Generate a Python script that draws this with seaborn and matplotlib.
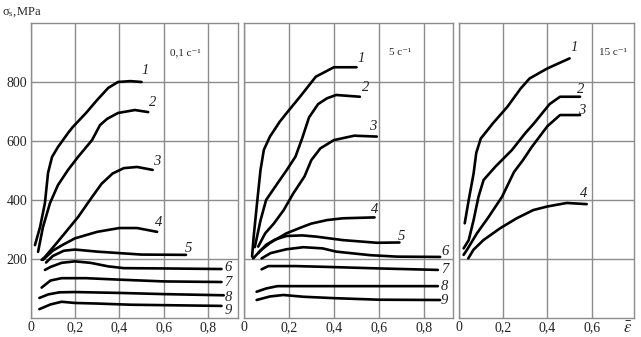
import numpy as np
import pandas as pd
import seaborn as sns
import matplotlib.pyplot as plt

# strain rate of each panel
rates = ['0,1 с⁻¹', '5 с⁻¹', '15 с⁻¹']

# flow curves: curve number -> (strain, stress MPa)
curves_01 = {
    1: ([0.02, 0.043, 0.065, 0.079, 0.097, 0.124, 0.169, 0.19, 0.25, 0.30, 0.35, 0.394, 0.45, 0.50],
        [247, 308, 390, 492, 546, 580, 627, 647, 695, 739, 780, 800, 803, 800]),
    2: ([0.034, 0.056, 0.088, 0.124, 0.169, 0.214, 0.277, 0.313, 0.345, 0.394, 0.47, 0.53],
        [224, 308, 390, 451, 502, 546, 603, 654, 675, 695, 705, 698]),
    3: ([0.05, 0.065, 0.11, 0.155, 0.214, 0.277, 0.32, 0.37, 0.42, 0.48, 0.55],
        [197, 207, 247, 288, 342, 410, 455, 490, 508, 512, 502]),
    4: ([0.056, 0.10, 0.15, 0.2, 0.3, 0.4, 0.48, 0.57],
        [197, 228, 250, 270, 292, 305, 305, 292]),
    5: ([0.07, 0.1, 0.15, 0.2, 0.3, 0.4, 0.5, 0.7],
        [188, 210, 228, 232, 225, 220, 215, 214]),
    6: ([0.065, 0.09, 0.14, 0.2, 0.27, 0.35, 0.42, 0.6, 0.86],
        [163, 173, 187, 192, 187, 175, 169, 168, 166]),
    7: ([0.05, 0.09, 0.14, 0.25, 0.4, 0.6, 0.86],
        [103, 127, 135, 135, 130, 124, 122]),
    8: ([0.04, 0.08, 0.13, 0.2, 0.4, 0.6, 0.87],
        [68, 80, 87, 88, 85, 81, 77]),
    9: ([0.04, 0.09, 0.14, 0.2, 0.3, 0.45, 0.86],
        [30, 46, 55, 51, 49, 45, 41]),
}

curves_5 = {
    1: ([0.038, 0.045, 0.06, 0.075, 0.09, 0.117, 0.16, 0.19, 0.25, 0.32, 0.40, 0.50],
        [208, 276, 390, 500, 570, 615, 665, 694, 750, 818, 850, 850]),
    2: ([0.05, 0.075, 0.10, 0.15, 0.19, 0.23, 0.26, 0.29, 0.33, 0.37, 0.41, 0.515],
        [240, 330, 400, 456, 500, 547, 610, 680, 725, 745, 756, 750]),
    3: ([0.065, 0.096, 0.134, 0.178, 0.22, 0.27, 0.30, 0.34, 0.40, 0.49, 0.59],
        [242, 287, 320, 366, 422, 480, 535, 575, 603, 618, 615]),
    4: ([0.043, 0.074, 0.12, 0.19, 0.265, 0.30, 0.37, 0.44, 0.58],
        [202, 228, 256, 287, 310, 320, 332, 338, 341]),
    5: ([0.065, 0.10, 0.14, 0.19, 0.26, 0.32, 0.44, 0.59, 0.69],
        [220, 248, 266, 278, 280, 276, 264, 255, 256]),
    6: ([0.08, 0.12, 0.19, 0.265, 0.35, 0.41, 0.56, 0.68, 0.87],
        [202, 220, 233, 240, 236, 225, 213, 208, 207]),
    7: ([0.08, 0.11, 0.23, 0.38, 0.6, 0.86],
        [165, 176, 176, 173, 168, 163]),
    8: ([0.058, 0.10, 0.15, 0.3, 0.86],
        [89, 100, 108, 108, 108]),
    9: ([0.058, 0.117, 0.176, 0.265, 0.41, 0.6, 0.87],
        [61, 73, 78, 72, 67, 62, 61]),
}

curves_15 = {
    1: ([0.028, 0.046, 0.068, 0.08, 0.10, 0.155, 0.22, 0.28, 0.32, 0.40, 0.50],
        [321, 400, 490, 560, 608, 660, 716, 778, 812, 846, 880]),
    2: ([0.023, 0.046, 0.068, 0.09, 0.113, 0.166, 0.24, 0.30, 0.34, 0.41, 0.457, 0.547],
        [236, 264, 332, 411, 468, 513, 569, 626, 660, 725, 750, 750]),
    3: ([0.023, 0.038, 0.083, 0.136, 0.196, 0.25, 0.29, 0.33, 0.40, 0.457, 0.547],
        [214, 231, 287, 343, 411, 495, 535, 580, 650, 688, 688]),
    4: ([0.044, 0.067, 0.112, 0.187, 0.262, 0.337, 0.40, 0.487, 0.577],
        [202, 231, 264, 304, 338, 366, 378, 390, 386]),
}

# where the curve numbers sit (strain, stress)
labels_01 = {1: (0.515, 840), 2: (0.55, 729), 3: (0.57, 529), 4: (0.575, 325), 5: (0.71, 237),
             6: (0.89, 170), 7: (0.89, 119), 8: (0.89, 71), 9: (0.89, 27)}
labels_5 = {1: (0.52, 881), 2: (0.54, 780), 3: (0.57, 648), 4: (0.58, 368), 5: (0.70, 275),
            6: (0.89, 224), 7: (0.89, 163), 8: (0.89, 108), 9: (0.89, 58)}
labels_15 = {1: (0.52, 918), 2: (0.55, 775), 3: (0.555, 705), 4: (0.565, 422)}

x_ticks = [[0, 0.2, 0.4, 0.6, 0.8], [0, 0.2, 0.4, 0.6, 0.8], [0, 0.2, 0.4, 0.6]]
y_ticks = [200, 400, 600, 800]

sns.set_style('white')
plt.rcParams['font.family'] = ['Liberation Serif', 'DejaVu Serif']
plt.rcParams['mathtext.fontset'] = 'stix'

W, H = 641, 337
fig = plt.figure(figsize=(W / 100, H / 100), dpi=100)

# panel edges in pixels (left, right) and x range
boxes = [(30.5, 237.5, 0.932), (243.5, 453, 0.927), (458.5, 634, 0.79)]
bottom, top = 318, 23
grey = '#8c8c8c'

panels = zip([curves_01, curves_5, curves_15], [labels_01, labels_5, labels_15], boxes)
for i, (curves, labels, (l, r, xmax)) in enumerate(panels):
    ax = fig.add_axes([l / W, (H - bottom) / H, (r - l) / W, (bottom - top) / H])
    rows = []
    for k, (xs, ys) in curves.items():
        for x, y in zip(xs, ys):
            rows.append((k, x, y))
    df = pd.DataFrame(rows, columns=['curve', 'eps', 'sigma'])
    for k, g in df.groupby('curve'):
        sns.lineplot(data=g, x='eps', y='sigma', color='black', lw=1.9,
                     estimator=None, sort=False, ax=ax)
        lx, ly = labels[k]
        ax.text(lx, ly, str(k), style='italic', fontsize=10.5,
                ha='center', va='center', color='#222222')

    ax.set_xlim(0, xmax)
    ax.set_ylim(0, 1000)
    ax.set_xticks(x_ticks[i])
    ax.set_xticklabels(['0' if t == 0 else f'{t:.1f}'.replace('.', ',') for t in x_ticks[i]],
                       fontsize=10)
    ax.set_yticks(y_ticks)
    if i == 0:
        ax.set_yticklabels([str(t) for t in y_ticks], fontsize=10)
    else:
        ax.set_yticklabels([])
    ax.tick_params(length=0, pad=2.5, colors='#222222')
    ax.grid(True, color=grey, lw=1.0)
    ax.set_axisbelow(True)
    for s in ax.spines.values():
        s.set_color(grey)
        s.set_linewidth(1.0)
    ax.set_xlabel('')
    ax.set_ylabel('')
    ax.text(0.695, 900, rates[i], fontsize=8, ha='center', va='center')

fig.text(2 / W, 1 - 12 / H, r'σ$_{\mathregular{s}}$,MPa', fontsize=9, ha='left', va='center')
fig.text(628 / W, 1 - 329 / H, r'$\bar{\varepsilon}$', fontsize=12, ha='center', va='center')

fig.savefig('out.png', dpi=100)
